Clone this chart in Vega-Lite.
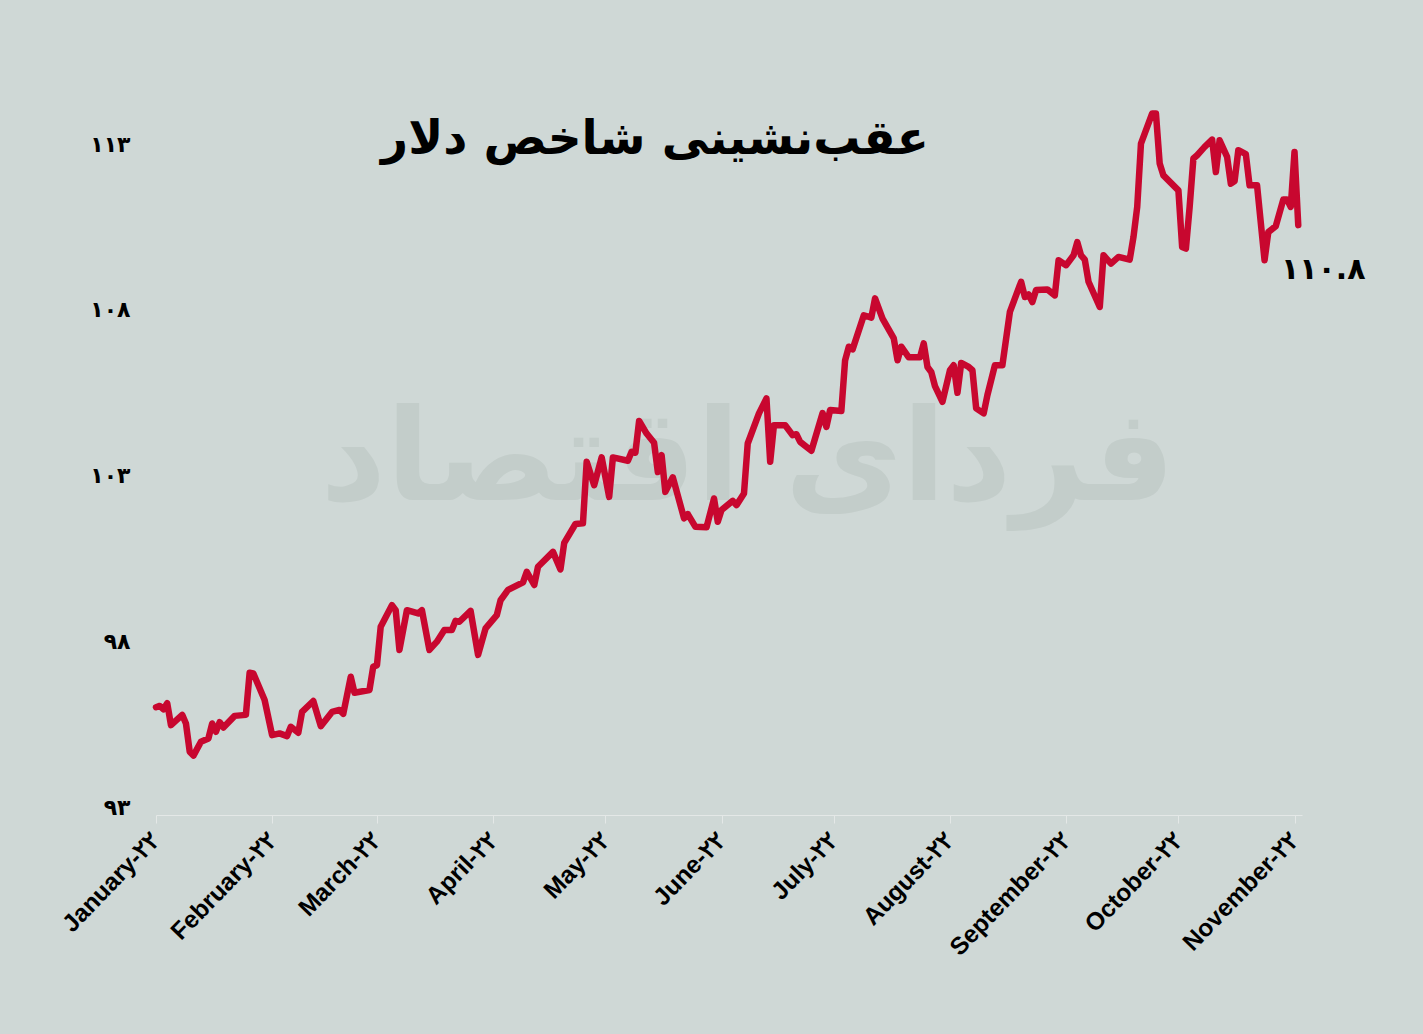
{
  "$schema": "https://vega.github.io/schema/vega-lite/v6.json",
  "autosize": {"type": "none"},
  "width": 1146,
  "height": 729,
  "padding": {"left": 156, "top": 78, "right": 121, "bottom": 227},
  "background": "#CFD8D6",
  "config": {"view": {"stroke": null}},
  "title": {
    "text": "عقب‌نشینی شاخص دلار",
    "font": "DejaVu Sans",
    "fontSize": 47,
    "fontWeight": "bold",
    "color": "#000000",
    "anchor": "middle",
    "baseline": "middle",
    "offset": 0,
    "dx": -74,
    "dy": 109
  },
  "datasets": {
    "dxy": [
      {"date": "2022-01-01", "value": 96.01},
      {"date": "2022-01-02", "value": 96.05},
      {"date": "2022-01-03", "value": 95.95},
      {"date": "2022-01-04", "value": 96.13},
      {"date": "2022-01-05", "value": 95.47},
      {"date": "2022-01-08", "value": 95.78},
      {"date": "2022-01-09", "value": 95.52},
      {"date": "2022-01-10", "value": 94.67},
      {"date": "2022-01-11", "value": 94.55},
      {"date": "2022-01-13", "value": 94.97},
      {"date": "2022-01-15", "value": 95.07},
      {"date": "2022-01-16", "value": 95.52},
      {"date": "2022-01-17", "value": 95.27},
      {"date": "2022-01-18", "value": 95.56},
      {"date": "2022-01-19", "value": 95.40},
      {"date": "2022-01-22", "value": 95.75},
      {"date": "2022-01-25", "value": 95.78},
      {"date": "2022-01-26", "value": 97.05},
      {"date": "2022-01-27", "value": 97.03},
      {"date": "2022-01-30", "value": 96.23},
      {"date": "2022-02-01", "value": 95.17},
      {"date": "2022-02-03", "value": 95.22},
      {"date": "2022-02-05", "value": 95.14},
      {"date": "2022-02-06", "value": 95.42},
      {"date": "2022-02-08", "value": 95.24},
      {"date": "2022-02-09", "value": 95.87},
      {"date": "2022-02-12", "value": 96.20},
      {"date": "2022-02-14", "value": 95.44},
      {"date": "2022-02-17", "value": 95.87},
      {"date": "2022-02-19", "value": 95.93},
      {"date": "2022-02-20", "value": 95.81},
      {"date": "2022-02-22", "value": 96.93},
      {"date": "2022-02-23", "value": 96.45},
      {"date": "2022-02-27", "value": 96.53},
      {"date": "2022-02-28", "value": 97.23},
      {"date": "2022-03-01", "value": 97.28},
      {"date": "2022-03-02", "value": 98.44},
      {"date": "2022-03-05", "value": 99.09},
      {"date": "2022-03-06", "value": 98.94},
      {"date": "2022-03-07", "value": 97.74},
      {"date": "2022-03-09", "value": 98.94},
      {"date": "2022-03-12", "value": 98.84},
      {"date": "2022-03-13", "value": 98.94},
      {"date": "2022-03-15", "value": 97.74},
      {"date": "2022-03-17", "value": 97.99},
      {"date": "2022-03-19", "value": 98.34},
      {"date": "2022-03-21", "value": 98.34},
      {"date": "2022-03-22", "value": 98.62},
      {"date": "2022-03-23", "value": 98.59},
      {"date": "2022-03-26", "value": 98.92},
      {"date": "2022-03-28", "value": 97.59},
      {"date": "2022-03-30", "value": 98.39},
      {"date": "2022-04-02", "value": 98.79},
      {"date": "2022-04-03", "value": 99.24},
      {"date": "2022-04-05", "value": 99.55},
      {"date": "2022-04-09", "value": 99.78},
      {"date": "2022-04-10", "value": 100.10},
      {"date": "2022-04-12", "value": 99.70},
      {"date": "2022-04-13", "value": 100.25},
      {"date": "2022-04-17", "value": 100.70},
      {"date": "2022-04-19", "value": 100.17},
      {"date": "2022-04-20", "value": 100.97},
      {"date": "2022-04-23", "value": 101.54},
      {"date": "2022-04-25", "value": 101.56},
      {"date": "2022-04-26", "value": 103.42},
      {"date": "2022-04-28", "value": 102.71},
      {"date": "2022-04-30", "value": 103.55},
      {"date": "2022-05-02", "value": 102.36},
      {"date": "2022-05-03", "value": 103.55},
      {"date": "2022-05-07", "value": 103.45},
      {"date": "2022-05-08", "value": 103.72},
      {"date": "2022-05-09", "value": 103.69},
      {"date": "2022-05-10", "value": 104.65},
      {"date": "2022-05-12", "value": 104.27},
      {"date": "2022-05-14", "value": 103.99},
      {"date": "2022-05-15", "value": 103.11},
      {"date": "2022-05-16", "value": 103.62},
      {"date": "2022-05-17", "value": 102.51},
      {"date": "2022-05-19", "value": 102.95},
      {"date": "2022-05-22", "value": 101.71},
      {"date": "2022-05-23", "value": 101.84},
      {"date": "2022-05-25", "value": 101.46},
      {"date": "2022-05-28", "value": 101.44},
      {"date": "2022-05-30", "value": 102.31},
      {"date": "2022-05-31", "value": 101.61},
      {"date": "2022-06-01", "value": 101.96},
      {"date": "2022-06-04", "value": 102.24},
      {"date": "2022-06-05", "value": 102.11},
      {"date": "2022-06-07", "value": 102.46},
      {"date": "2022-06-08", "value": 103.97},
      {"date": "2022-06-11", "value": 104.88},
      {"date": "2022-06-13", "value": 105.33},
      {"date": "2022-06-14", "value": 103.42},
      {"date": "2022-06-15", "value": 104.52},
      {"date": "2022-06-18", "value": 104.52},
      {"date": "2022-06-20", "value": 104.22},
      {"date": "2022-06-21", "value": 104.25},
      {"date": "2022-06-22", "value": 104.02},
      {"date": "2022-06-25", "value": 103.75},
      {"date": "2022-06-28", "value": 104.89},
      {"date": "2022-06-29", "value": 104.47},
      {"date": "2022-06-30", "value": 104.98},
      {"date": "2022-07-03", "value": 104.95},
      {"date": "2022-07-04", "value": 106.48},
      {"date": "2022-07-05", "value": 106.89},
      {"date": "2022-07-06", "value": 106.81},
      {"date": "2022-07-09", "value": 107.84},
      {"date": "2022-07-11", "value": 107.77},
      {"date": "2022-07-12", "value": 108.35},
      {"date": "2022-07-14", "value": 107.74},
      {"date": "2022-07-17", "value": 107.14},
      {"date": "2022-07-18", "value": 106.48},
      {"date": "2022-07-19", "value": 106.89},
      {"date": "2022-07-21", "value": 106.57},
      {"date": "2022-07-24", "value": 106.57},
      {"date": "2022-07-25", "value": 106.99},
      {"date": "2022-07-26", "value": 106.28},
      {"date": "2022-07-27", "value": 106.13},
      {"date": "2022-07-28", "value": 105.70},
      {"date": "2022-07-30", "value": 105.23},
      {"date": "2022-08-01", "value": 106.18},
      {"date": "2022-08-02", "value": 106.33},
      {"date": "2022-08-03", "value": 105.50},
      {"date": "2022-08-04", "value": 106.40},
      {"date": "2022-08-06", "value": 106.28},
      {"date": "2022-08-07", "value": 106.18},
      {"date": "2022-08-08", "value": 105.03},
      {"date": "2022-08-10", "value": 104.88},
      {"date": "2022-08-11", "value": 105.43},
      {"date": "2022-08-13", "value": 106.33},
      {"date": "2022-08-15", "value": 106.33},
      {"date": "2022-08-17", "value": 107.94},
      {"date": "2022-08-20", "value": 108.85},
      {"date": "2022-08-21", "value": 108.39},
      {"date": "2022-08-22", "value": 108.47},
      {"date": "2022-08-23", "value": 108.24},
      {"date": "2022-08-24", "value": 108.60},
      {"date": "2022-08-27", "value": 108.62},
      {"date": "2022-08-29", "value": 108.44},
      {"date": "2022-08-30", "value": 109.50},
      {"date": "2022-09-01", "value": 109.35},
      {"date": "2022-09-03", "value": 109.65},
      {"date": "2022-09-04", "value": 110.05},
      {"date": "2022-09-05", "value": 109.65},
      {"date": "2022-09-06", "value": 109.52},
      {"date": "2022-09-07", "value": 108.85},
      {"date": "2022-09-10", "value": 108.09},
      {"date": "2022-09-11", "value": 109.65},
      {"date": "2022-09-13", "value": 109.40},
      {"date": "2022-09-15", "value": 109.60},
      {"date": "2022-09-18", "value": 109.52},
      {"date": "2022-09-19", "value": 110.20},
      {"date": "2022-09-20", "value": 111.11},
      {"date": "2022-09-21", "value": 113.02},
      {"date": "2022-09-24", "value": 113.93},
      {"date": "2022-09-25", "value": 113.93},
      {"date": "2022-09-26", "value": 112.42},
      {"date": "2022-09-27", "value": 112.06},
      {"date": "2022-10-01", "value": 111.61},
      {"date": "2022-10-02", "value": 109.90},
      {"date": "2022-10-03", "value": 109.85},
      {"date": "2022-10-04", "value": 111.11},
      {"date": "2022-10-05", "value": 112.57},
      {"date": "2022-10-06", "value": 112.67},
      {"date": "2022-10-08", "value": 112.92},
      {"date": "2022-10-10", "value": 113.14},
      {"date": "2022-10-11", "value": 112.16},
      {"date": "2022-10-12", "value": 113.12},
      {"date": "2022-10-14", "value": 112.62},
      {"date": "2022-10-15", "value": 111.81},
      {"date": "2022-10-16", "value": 111.89},
      {"date": "2022-10-17", "value": 112.82},
      {"date": "2022-10-19", "value": 112.70},
      {"date": "2022-10-20", "value": 111.76},
      {"date": "2022-10-22", "value": 111.76},
      {"date": "2022-10-24", "value": 109.50},
      {"date": "2022-10-25", "value": 110.35},
      {"date": "2022-10-27", "value": 110.53},
      {"date": "2022-10-29", "value": 111.33},
      {"date": "2022-10-30", "value": 111.33},
      {"date": "2022-10-31", "value": 111.11},
      {"date": "2022-11-01", "value": 112.77},
      {"date": "2022-11-02", "value": 110.56}
    ],
    "endLabel": [
      {"date": "2022-11-02", "value": 110.56, "label": "۱۱۰.۸"}
    ],
    "watermark": [
      {"date": "2022-06-08", "value": 103.4, "label": "فردای اقتصاد"}
    ]
  },
  "encoding": {
    "x": {
      "field": "date",
      "type": "temporal",
      "scale": {"type": "utc", "domain": [{"year": 2022, "month": 1, "date": 1, "utc": true}, {"year": 2022, "month": 11, "date": 3, "utc": true}]},
      "axis": {
        "title": null,
        "tickCount": {"interval": "month", "step": 1},
        "labelExpr": "utcFormat(datum.value, '%B') + '-۲۲'",
        "labelAngle": -46,
        "labelAlign": "right",
        "labelBaseline": "middle",
        "labelFont": "Liberation Sans",
        "labelFontWeight": "bold",
        "labelFontSize": 24.5,
        "labelColor": "#000000",
        "labelPadding": 13,
        "labelFlush": false,
        "labelOverlap": false,
        "domainColor": "#E4E8E7",
        "domainWidth": 1,
        "tickColor": "#E4E8E7",
        "tickSize": 8,
        "offset": 8,
        "grid": false
      }
    },
    "y": {
      "field": "value",
      "type": "quantitative",
      "scale": {"domain": [93, 115], "nice": false, "zero": false},
      "axis": {
        "title": null,
        "values": [93, 98, 103, 108, 113],
        "labelExpr": "datum.value == 93 ? '۹۳' : datum.value == 98 ? '۹۸' : datum.value == 103 ? '۱۰۳' : datum.value == 108 ? '۱۰۸' : '۱۱۳'",
        "labelFont": "DejaVu Sans",
        "labelFontSize": 22,
        "labelFontWeight": "bold",
        "labelColor": "#000000",
        "labelPadding": 26,
        "domain": false,
        "ticks": false,
        "grid": false
      }
    }
  },
  "layer": [
    {
      "data": {"name": "watermark"},
      "mark": {"type": "text", "font": "DejaVu Sans", "fontSize": 128, "fontWeight": "bold", "color": "#C3CDCA", "align": "center", "baseline": "middle"},
      "encoding": {"text": {"field": "label"}}
    },
    {
      "data": {"name": "dxy"},
      "mark": {"type": "line", "color": "#C8072F", "strokeWidth": 6.5, "strokeJoin": "round", "strokeCap": "round"}
    },
    {
      "data": {"name": "endLabel"},
      "mark": {"type": "text", "font": "DejaVu Sans", "fontSize": 30, "fontWeight": "bold", "color": "#000000", "align": "center", "baseline": "middle", "dx": 25, "dy": 45},
      "encoding": {"text": {"field": "label"}}
    }
  ]
}
